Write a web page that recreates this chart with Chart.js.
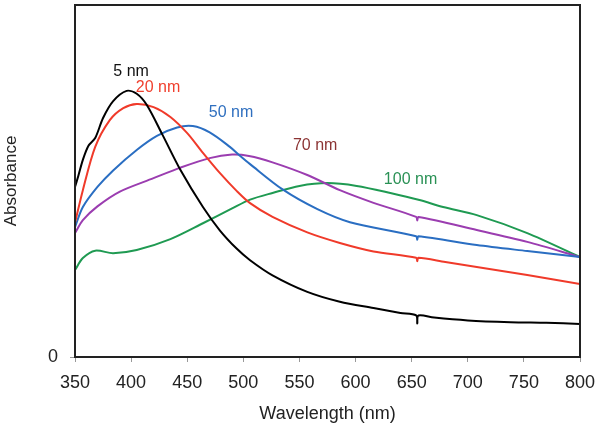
<!DOCTYPE html>
<html>
<head>
<meta charset="utf-8">
<script src="https://cdn.jsdelivr.net/npm/chart.js@4/dist/chart.umd.min.js"></script>
<style>
  body { margin: 0; background: #fff; }
  canvas { display: block; }
</style>
</head>
<body>
<canvas id="grafico" width="601" height="433"></canvas>
<script>
// Espectros de absorbancia (nm, unidades arbitrarias)
const wl5 = [350, 353, 357, 362, 368, 375, 384, 396, 405, 414, 428, 444, 464, 479, 494, 506, 526, 557, 586, 616, 640, 654, 655, 656, 670, 700, 738, 770, 800];
const abs5 = [0.483, 0.515, 0.560, 0.600, 0.622, 0.679, 0.727, 0.756, 0.748, 0.716, 0.631, 0.531, 0.426, 0.360, 0.308, 0.275, 0.232, 0.185, 0.157, 0.139, 0.125, 0.118, 0.095, 0.118, 0.112, 0.104, 0.099, 0.097, 0.094];

const wl20 = [350, 357, 368, 381, 393, 405, 420, 435, 450, 464, 479, 494, 506, 526, 557, 586, 616, 654, 655, 656, 680, 708, 753, 800];
const abs20 = [0.381, 0.474, 0.597, 0.673, 0.707, 0.719, 0.710, 0.682, 0.636, 0.580, 0.523, 0.472, 0.437, 0.398, 0.354, 0.324, 0.300, 0.282, 0.272, 0.282, 0.270, 0.256, 0.233, 0.207];

const wl50 = [350, 357, 370, 384, 405, 423, 441, 455, 470, 488, 497, 506, 535, 566, 595, 654, 655, 656, 708, 753, 800];
const abs50 = [0.369, 0.426, 0.483, 0.530, 0.588, 0.628, 0.652, 0.656, 0.638, 0.597, 0.572, 0.548, 0.476, 0.420, 0.383, 0.343, 0.333, 0.343, 0.318, 0.301, 0.284];

const wl70 = [350, 357, 370, 390, 420, 444, 470, 490, 505, 526, 557, 586, 616, 654, 655, 656, 708, 753, 800];
const abs70 = [0.352, 0.389, 0.428, 0.470, 0.508, 0.538, 0.565, 0.575, 0.571, 0.553, 0.517, 0.474, 0.438, 0.398, 0.388, 0.398, 0.361, 0.327, 0.284];

const wl100 = [350, 357, 368, 384, 405, 435, 464, 490, 506, 526, 550, 575, 601, 631, 657, 678, 708, 753, 800];
const abs100 = [0.247, 0.281, 0.302, 0.295, 0.304, 0.335, 0.380, 0.422, 0.447, 0.466, 0.486, 0.494, 0.486, 0.466, 0.446, 0.426, 0.403, 0.352, 0.284];

const etiquetas = ['5 nm', '20 nm', '50 nm', '70 nm', '100 nm'];
const xTicks = [350, 400, 450, 500, 550, 600, 650, 700, 750, 800];

const fuente = 'Arial, "Liberation Sans", sans-serif';

function puntos(xs, ys) {
    return xs.map((x, i) => ({ x: x, y: ys[i] }));
}

function serie(nombre, xs, ys, color) {
    return {
        label: nombre,
        data: puntos(xs, ys),
        borderColor: color,
        borderWidth: 2,
        pointRadius: 0,
        tension: 0.3,
        fill: false
    };
}

// marco alrededor del área de la gráfica
const marco = {
    id: 'marco',
    afterDraw(chart) {
        const a = chart.chartArea;
        const ctx = chart.ctx;
        ctx.save();
        ctx.strokeStyle = '#222';
        ctx.lineWidth = 2;
        ctx.strokeRect(a.left, a.top, a.right - a.left, a.bottom - a.top);
        ctx.restore();
    }
};

// etiquetas de cada curva, colocadas en coordenadas de datos
const rotulos = {
    id: 'rotulos',
    afterDatasetsDraw(chart) {
        const ctx = chart.ctx;
        const xs = chart.scales.x, ys = chart.scales.y;
        const sitios = [[400, 0.81], [424, 0.764], [489, 0.693], [564, 0.602], [649, 0.503]];
        const colores = ['#111', '#f0402e', '#2f6fbf', '#8c3434', '#2a9155'];
        ctx.save();
        ctx.font = '16px ' + fuente;
        ctx.textAlign = 'center';
        ctx.textBaseline = 'middle';
        etiquetas.forEach((t, i) => {
            ctx.fillStyle = colores[i];
            ctx.fillText(t, xs.getPixelForValue(sitios[i][0]), ys.getPixelForValue(sitios[i][1]));
        });
        ctx.restore();
    }
};

const ctx = document.getElementById('grafico');
const grafico = new Chart(ctx, {
    type: 'line',
    data: {
        datasets: [
            serie(etiquetas[0], wl5, abs5, '#000000'),
            serie(etiquetas[1], wl20, abs20, '#f03a2a'),
            serie(etiquetas[2], wl50, abs50, '#2a6ec2'),
            serie(etiquetas[3], wl70, abs70, '#9b3db0'),
            serie(etiquetas[4], wl100, abs100, '#1f9a52')
        ]
    },
    options: {
        responsive: false,
        animation: false,
        layout: { padding: { top: 5, right: 21 } },
        plugins: {
            legend: { display: false },
            tooltip: { enabled: false }
        },
        scales: {
            x: {
                type: 'linear',
                min: 350,
                max: 800,
                afterBuildTicks: s => { s.ticks = xTicks.map(v => ({ value: v })); },
                afterFit: s => { s.height = 76; s.paddingLeft = 0; s.paddingRight = 0; },
                ticks: { font: { family: fuente, size: 18 }, color: '#222', padding: 10, maxRotation: 0 },
                grid: { drawOnChartArea: false, tickLength: 5, color: '#999' },
                border: { color: '#222', width: 2 },
                title: {
                    display: true,
                    text: 'Wavelength (nm)',
                    font: { family: fuente, size: 18 },
                    color: '#222',
                    padding: { top: 0, bottom: 8 }
                }
            },
            y: {
                min: 0,
                max: 1,
                afterBuildTicks: s => { s.ticks = [{ value: 0 }]; },
                afterFit: s => { s.width = 75; s.paddingTop = 0; s.paddingBottom = 0; },
                ticks: { font: { family: fuente, size: 18 }, color: '#222', padding: 12 },
                grid: { drawOnChartArea: false, tickLength: 5, color: '#999' },
                border: { color: '#222', width: 2 },
                title: {
                    display: true,
                    text: 'Absorbance',
                    font: { family: fuente, size: 17 },
                    color: '#222',
                    padding: { top: 1, bottom: 0 }
                }
            }
        }
    },
    plugins: [marco, rotulos]
});
</script>
</body>
</html>
